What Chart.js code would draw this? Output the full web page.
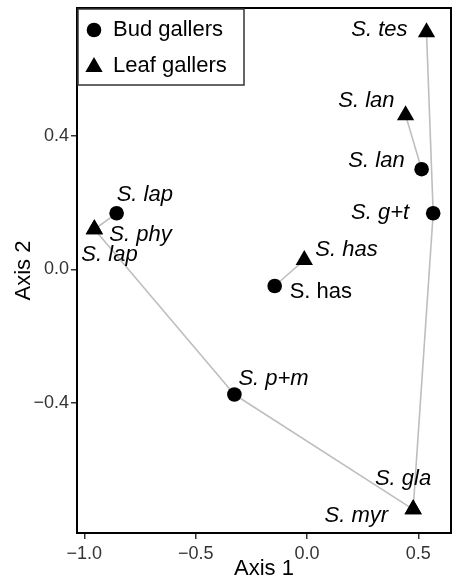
<!DOCTYPE html>
<html>
<head>
<meta charset="utf-8">
<script src="https://cdn.jsdelivr.net/npm/chart.js@4/dist/chart.umd.min.js"></script>
<style>
    html, body { margin: 0; padding: 0; background: #fff; overflow: hidden; }
    #wrap { width: 453px; height: 581px; position: relative; }
    canvas { display: block; }
</style>
</head>
<body>
<div id="wrap"><canvas id="grafico"></canvas></div>
<script>
// galhadores de gema (circulos)
const budNomes = ['S. lan', 'S. g+t', 'S. lap', 'S. has', 'S. p+m'];
const budX = [0.515, 0.567, -0.855, -0.145, -0.326];
const budY = [0.300, 0.168, 0.168, -0.050, -0.375];

// galhadores de folha (triangulos)
const leafNomes = ['S. tes', 'S. lan', 'S. phy', 'S. lap', 'S. has', 'S. gla', 'S. myr'];
const leafX = [0.537, 0.443, -0.955, -0.955, -0.012, 0.477, 0.477];
const leafY = [0.710, 0.462, 0.120, 0.120, 0.028, -0.719, -0.719];

// ligacoes entre pontos: b = bud, l = leaf
const ligacoes = [
    ['l0', 'b1'], ['b1', 'l5'], ['l1', 'b0'], ['b2', 'l2'],
    ['l2', 'b4'], ['b4', 'l5'], ['l4', 'b3']
];

const ticksX = [-1.0, -0.5, 0.0, 0.5];
const ticksY = [-0.4, 0.0, 0.4];

function ponto(chave) {
    const i = Number(chave.slice(1));
    return chave[0] === 'b' ? { x: budX[i], y: budY[i] } : { x: leafX[i], y: leafY[i] };
}

// deslocamento dos rotulos em px
const rotulosBud = [
    { dx: -17, dy: -8, align: 'right' },
    { dx: -24, dy: 0, align: 'right' },
    { dx: 0, dy: -18, align: 'left' },
    { dx: 15, dy: 6, align: 'left', reto: true },
    { dx: 4, dy: -16, align: 'left' }
];
const rotulosLeaf = [
    { dx: -19, dy: -2, align: 'right' },
    { dx: -11, dy: -14, align: 'right' },
    { dx: 15, dy: 6, align: 'left' },
    { dx: -13, dy: 26, align: 'left' },
    { dx: 11, dy: -10, align: 'left' },
    { dx: 18, dy: -30, align: 'right' },
    { dx: -25, dy: 7, align: 'right' }
];

const fonte = '"Liberation Sans", Arial, sans-serif';
const menos = v => v.toFixed(1).replace('-', '\u2212');

const datasets = [
    {
        label: 'Bud gallers',
        data: budX.map((x, i) => ({ x: x, y: budY[i] })),
        pointStyle: 'circle',
        pointRadius: 7.3,
        pointHoverRadius: 7.3,
        backgroundColor: '#000',
        borderWidth: 0,
        order: 1
    },
    {
        label: 'Leaf gallers',
        data: leafX.map((x, i) => ({ x: x, y: leafY[i] })),
        pointStyle: 'triangle',
        pointRadius: 10,
        pointHoverRadius: 10,
        backgroundColor: '#000',
        borderWidth: 0,
        order: 1
    }
];

ligacoes.forEach(par => {
    datasets.push({
        type: 'line',
        data: [ponto(par[0]), ponto(par[1])],
        borderColor: '#BEBEBE',
        borderWidth: 1.6,
        pointRadius: 0,
        fill: false,
        order: 2
    });
});

const rotulosPlugin = {
    id: 'rotulos',
    afterDatasetsDraw(chart) {
        const ctx = chart.ctx;
        const sx = chart.scales.x, sy = chart.scales.y;
        ctx.save();
        ctx.fillStyle = '#000';
        ctx.textBaseline = 'middle';
        const desenha = (nomes, xs, ys, rot) => {
            nomes.forEach((n, i) => {
                const r = rot[i];
                ctx.font = (r.reto ? '' : 'italic ') + '22px ' + fonte;
                ctx.textAlign = r.align;
                ctx.fillText(n, sx.getPixelForValue(xs[i]) + r.dx, sy.getPixelForValue(ys[i]) + r.dy);
            });
        };
        desenha(budNomes, budX, budY, rotulosBud);
        desenha(leafNomes, leafX, leafY, rotulosLeaf);
        ctx.restore();
    }
};

const molduraPlugin = {
    id: 'moldura',
    afterDraw(chart) {
        const ctx = chart.ctx;
        const a = chart.chartArea;
        ctx.save();
        ctx.strokeStyle = '#000';
        ctx.lineWidth = 2;
        ctx.strokeRect(a.left, a.top, a.right - a.left, a.bottom - a.top);

        // legenda dentro do painel
        const lx = a.left + 1, ly = a.top + 1, lw = 166, lh = 76;
        ctx.fillStyle = '#fff';
        ctx.fillRect(lx, ly, lw, lh);
        ctx.strokeStyle = '#333';
        ctx.lineWidth = 1.5;
        ctx.strokeRect(lx, ly, lw, lh);

        ctx.fillStyle = '#000';
        ctx.beginPath();
        ctx.arc(lx + 16, ly + 21, 7.3, 0, Math.PI * 2);
        ctx.fill();

        const tx = lx + 16, ty = ly + 58, r = 10;
        ctx.beginPath();
        ctx.moveTo(tx, ty - r);
        ctx.lineTo(tx + r * Math.sin(Math.PI * 2 / 3), ty + r / 2);
        ctx.lineTo(tx - r * Math.sin(Math.PI * 2 / 3), ty + r / 2);
        ctx.closePath();
        ctx.fill();

        ctx.font = '22px ' + fonte;
        ctx.textAlign = 'left';
        ctx.textBaseline = 'middle';
        ctx.fillText('Bud gallers', lx + 35, ly + 21);
        ctx.fillText('Leaf gallers', lx + 35, ly + 57);
        ctx.restore();
    }
};

new Chart(document.getElementById('grafico').getContext('2d'), {
    type: 'scatter',
    data: { datasets: datasets },
    options: {
        responsive: true,
        maintainAspectRatio: false,
        animation: false,
        layout: { autoPadding: false, padding: { left: 0, top: 8, right: 2, bottom: 0 } },
        plugins: {
            legend: { display: false },
            tooltip: { enabled: false }
        },
        scales: {
            x: {
                type: 'linear',
                min: -1.033,
                max: 0.647,
                afterBuildTicks: s => { s.ticks = ticksX.map(v => ({ value: v })); },
                afterFit: s => { s.height = 48; s.paddingLeft = 0; s.paddingRight = 0; },
                grid: { drawOnChartArea: false, color: '#333', tickLength: 6, lineWidth: 1.5 },
                border: { display: false },
                ticks: {
                    font: { size: 18, family: fonte },
                    color: '#333',
                    padding: 4,
                    maxRotation: 0,
                    callback: v => menos(v)
                },
                title: {
                    display: true,
                    text: 'Axis 1',
                    font: { size: 22, family: fonte, lineHeight: 1.1 },
                    color: '#000',
                    padding: { top: 0, bottom: 0 }
                }
            },
            y: {
                type: 'linear',
                min: -0.790,
                max: 0.783,
                afterBuildTicks: s => { s.ticks = ticksY.map(v => ({ value: v })); },
                afterFit: s => { s.width = 77; s.paddingTop = 0; s.paddingBottom = 0; },
                grid: { drawOnChartArea: false, color: '#333', tickLength: 6, lineWidth: 1.5 },
                border: { display: false },
                ticks: {
                    font: { size: 18, family: fonte },
                    color: '#333',
                    padding: 2,
                    callback: v => menos(v)
                },
                title: {
                    display: true,
                    text: 'Axis 2',
                    font: { size: 22, family: fonte },
                    color: '#000',
                    padding: { top: 11, bottom: 0 }
                }
            }
        }
    },
    plugins: [rotulosPlugin, molduraPlugin]
});
</script>
</body>
</html>
